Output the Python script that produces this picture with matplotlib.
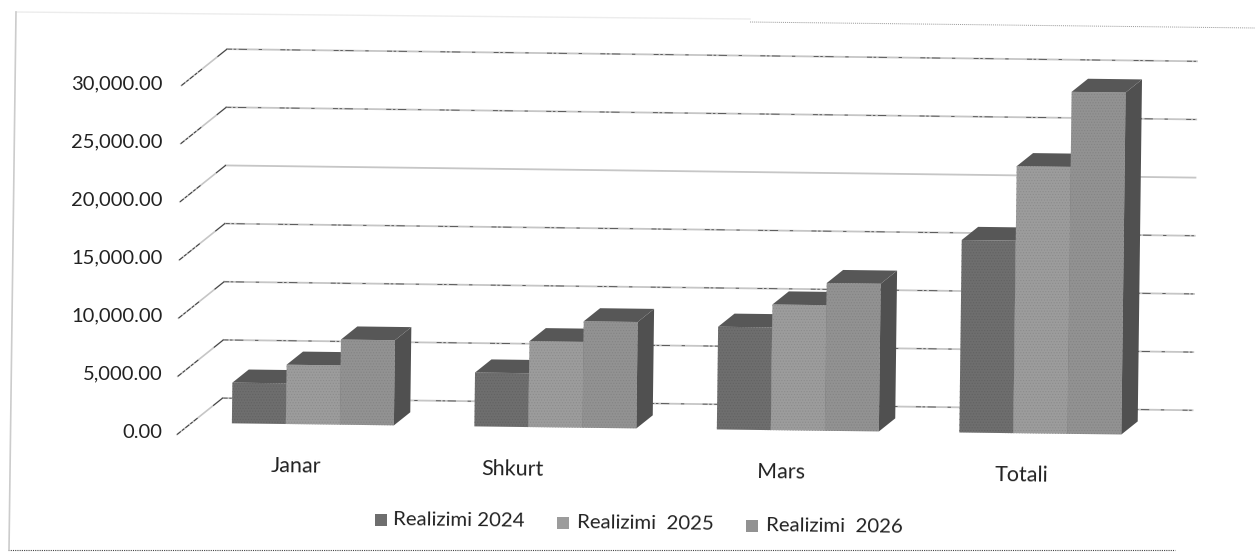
import matplotlib
matplotlib.use('Agg')
import matplotlib.pyplot as plt
from matplotlib.patches import Polygon, Rectangle
from matplotlib.transforms import Affine2D

# Values
categories = ['Janar', 'Shkurt', 'Mars', 'Totali']
realizimi_2024 = [3500, 4630, 8830, 16550]
realizimi_2025 = [5100, 7380, 10800, 22950]
realizimi_2026 = [7320, 9150, 12700, 29400]
series_names = ['Realizimi 2024', 'Realizimi  2025', 'Realizimi  2026']
y_ticks = [0, 5000, 10000, 15000, 20000, 25000, 30000]

plt.rcParams['font.family'] = ['Lato', 'DejaVu Sans']
plt.rcParams['hatch.linewidth'] = 0.5

front_colors = ['#6e6e6e', '#9c9c9c', '#929292']
hatch_colors = ['#626262', '#8c8c8c', '#848484']
top_color = '#575757'
side_color = '#505050'
text_color = '#222222'

bar_width = 0.2227
depth_x = 0.186   # full depth of the floor, in category units
depth_y = 3180    # full depth of the floor, in value units
bar_start = 0.32  # bars sit in the middle of the depth
bar_end = 0.68


def pixel_transform(fig):
    # Frame and legend are placed in picture pixels (y going down)
    return Affine2D().scale(1, -1).translate(0, fig.bbox.height)


def draw_walls(ax, trans):
    for v in y_ticks:
        x0, x1 = -0.5, 3.5
        back_x = [x0 + depth_x, x1 + depth_x]
        back_y = [v + depth_y, v + depth_y]
        ax.plot(back_x, back_y, color='#c6c6c6', lw=1.3, transform=trans, clip_on=False, zorder=1)
        # the scan broke the thin lines up into dark specks
        if v != 20000:
            ax.plot(back_x, back_y, color='#4a4a4a', lw=0.6, dashes=(6, 2, 3, 3, 10, 14, 4, 22),
                    transform=trans, clip_on=False, zorder=1)
        ax.plot([x0, x0 + depth_x], [v, v + depth_y], color='#c6c6c6', lw=1.2,
                transform=trans, clip_on=False, zorder=1)
        ax.plot([x0, x0 + depth_x * 0.45], [v, v + depth_y * 0.45], color='#3a3a3a', lw=0.7,
                dashes=(5, 1.5, 3, 1.5), transform=trans, clip_on=False, zorder=1)
        ax.plot([x0 + depth_x * 0.8, x0 + depth_x], [v + depth_y * 0.8, v + depth_y], color='#3a3a3a',
                lw=0.7, transform=trans, clip_on=False, zorder=1)


def draw_bar(ax, trans, left, value, s, zorder):
    right = left + bar_width
    dx0, dy0 = depth_x * bar_start, depth_y * bar_start
    dx1, dy1 = depth_x * bar_end, depth_y * bar_end
    front = [(left + dx0, dy0), (right + dx0, dy0), (right + dx0, value + dy0), (left + dx0, value + dy0)]
    top = [(left + dx0, value + dy0), (right + dx0, value + dy0), (right + dx1, value + dy1), (left + dx1, value + dy1)]
    side = [(right + dx0, dy0), (right + dx1, dy1), (right + dx1, value + dy1), (right + dx0, value + dy0)]
    ax.add_patch(Polygon(front, closed=True, facecolor=front_colors[s], edgecolor=hatch_colors[s],
                         hatch='......', lw=0, transform=trans, clip_on=False, zorder=zorder))
    for points, face in [(top, top_color), (side, side_color)]:
        ax.add_patch(Polygon(points, closed=True, facecolor=face, edgecolor='none',
                             transform=trans, clip_on=False, zorder=zorder))


def main():
    fig = plt.figure(figsize=(12.55, 5.6), dpi=100, facecolor='white')
    ax = fig.add_axes([177 / 1255, 129 / 560, 970 / 1255, 349 / 560])
    ax.set_xlim(-0.5, 3.5)
    ax.set_ylim(0, 30000)
    ax.patch.set_alpha(0)
    for spine in ax.spines.values():
        spine.set_visible(False)
    ax.set_xticks([])
    ax.set_yticks(y_ticks)
    ax.set_yticklabels([f'{v:,.2f}' for v in y_ticks], fontsize=14.5, color=text_color)
    ax.tick_params(axis='y', length=0, pad=10.5)

    # The page was scanned slightly turned
    scan = Affine2D().rotate_deg_around(177, 125, -0.72).translate(0, -3.5)
    trans = ax.transData + scan

    draw_walls(ax, trans)

    series = [realizimi_2024, realizimi_2025, realizimi_2026]
    for c in range(len(categories)):
        for s, values in enumerate(series):
            left = c - 1.5 * bar_width + s * bar_width
            draw_bar(ax, trans, left, values[c], s, 3 + c + s * 0.1)

    # Category labels
    label_shift = [-0.10, -0.21, -0.10, -0.11]
    for c, name in enumerate(categories):
        ax.text(c + depth_x * 0.5 + label_shift[c], -2600, name, fontsize=15.5, color=text_color,
                ha='center', va='center', rotation=-0.72, transform=trans, clip_on=False)

    # Legend
    pix = pixel_transform(fig)
    square_x = [375, 557, 746]
    text_x = [393, 577, 766]
    legend_y = [520, 523, 526]
    for s, name in enumerate(series_names):
        ax.add_patch(Rectangle((square_x[s], legend_y[s] - 6), 12, 12, facecolor=front_colors[s],
                               edgecolor='none', transform=pix, clip_on=False))
        ax.text(text_x[s], legend_y[s], name, fontsize=14.7, color=text_color, ha='left', va='center',
                rotation=-0.72, transform=pix, clip_on=False)

    # Border of the scanned page
    ax.plot([16, 750], [12, 19], color='#ececec', lw=1, transform=pix, clip_on=False)
    ax.plot([750, 1255], [22, 28], color='#999999', lw=0.7, ls=(0, (1, 1)), transform=pix, clip_on=False)
    ax.plot([8, 1175], [550, 550], color='#444444', lw=0.8, ls=(0, (1, 1)), transform=pix, clip_on=False)
    ax.plot([16, 9], [12, 550], color='#cccccc', lw=1.2, transform=pix, clip_on=False)

    fig.savefig('out.png', dpi=100, facecolor='white')


if __name__ == '__main__':
    main()
